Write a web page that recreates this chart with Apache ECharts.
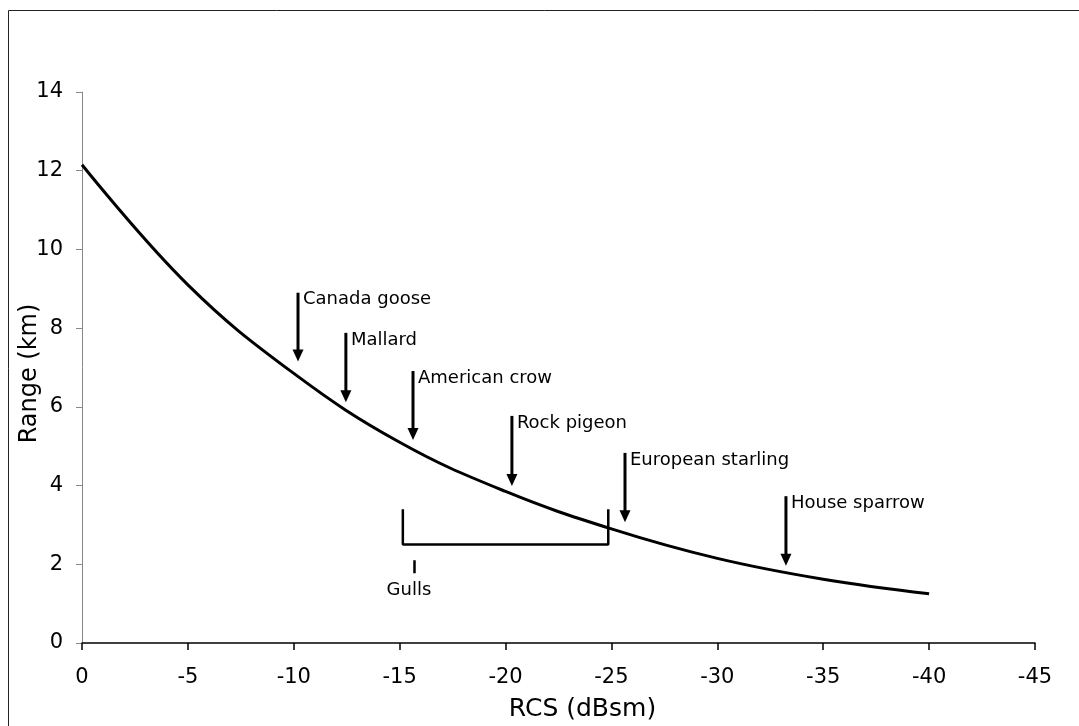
<!DOCTYPE html>
<html>
<head>
<meta charset="utf-8">
<script src="https://cdn.jsdelivr.net/npm/echarts@6/dist/echarts.min.js"></script>
<style>
  html, body { margin: 0; padding: 0; background: #fff; }
  #chart { width: 1079px; height: 726px; }
</style>
</head>
<body>
<div id="chart"></div>
<script>
// detection range curve
const rcs = [0, -5, -10, -15, -20, -25, -30, -35, -40]
const range = [12.15, 9.1, 6.85, 5.1, 3.85, 2.9, 2.15, 1.62, 1.25]

// bird arrows: x position, top of shaft, arrow tip
const birds = ['Canada goose', 'Mallard', 'American crow', 'Rock pigeon', 'European starling', 'House sparrow']
const birdRcs = [-10.2, -12.46, -15.63, -20.3, -25.64, -33.24]
const arrowTop = [8.9, 7.88, 6.91, 5.77, 4.83, 3.73]
const arrowTip = [7.15, 6.12, 5.16, 3.99, 3.07, 1.96]

// gulls bracket
const gullsX = [-15.15, -15.15, -24.85, -24.85]
const gullsY = [3.4, 2.5, 2.5, 3.4]
const gullsTickX = [-15.7, -15.7]
const gullsTickY = [2.1, 1.77]
const gullsLabel = [[-15.44, 1.33, 'Gulls']]

const font = 'DejaVu Sans, Verdana, sans-serif'

const chart = echarts.init(document.getElementById('chart'))

const arrowData = birds.map((name, i) => [birdRcs[i], arrowTop[i], arrowTip[i]])

const option = {
  animation: false,
  backgroundColor: '#fff',
  graphic: [
    {
      type: 'rect',
      shape: { x: 8.5, y: 10.5, width: 1200, height: 900 },
      style: { fill: 'none', stroke: '#222', lineWidth: 1 },
      silent: true
    }
  ],
  grid: { left: 82, right: 44, top: 92, bottom: 83, containLabel: false, outerBoundsMode: 'none' },
  xAxis: {
    type: 'value',
    inverse: true,
    min: -45,
    max: 0,
    interval: 5,
    name: 'RCS (dBsm)',
    nameLocation: 'middle',
    nameGap: 54,
    nameTextStyle: { fontFamily: font, fontSize: 25, color: '#000', padding: [0, 0, 0, 48] },
    axisLine: { show: true, lineStyle: { color: '#000', width: 1.5 } },
    axisTick: { show: true, length: 7, lineStyle: { color: '#000', width: 1.5 } },
    axisLabel: { fontFamily: font, fontSize: 21, color: '#000', margin: 24 },
    splitLine: { show: false }
  },
  yAxis: {
    type: 'value',
    min: 0,
    max: 14,
    interval: 2,
    name: 'Range (km)',
    nameLocation: 'middle',
    nameGap: 40,
    nameMoveOverlap: false,
    nameTextStyle: { fontFamily: font, fontSize: 24, color: '#000', padding: [0, 12, 0, 0] },
    axisLine: { show: true, lineStyle: { color: '#888', width: 1 } },
    axisTick: { show: true, length: 6, lineStyle: { color: '#888' } },
    axisLabel: { fontFamily: font, fontSize: 21, color: '#000', margin: 19 },
    splitLine: { show: false }
  },
  series: [
    {
      name: 'range',
      type: 'line',
      data: rcs.map((x, i) => [x, range[i]]),
      smooth: 0.4,
      showSymbol: false,
      lineStyle: { color: '#000', width: 3 },
      z: 3
    },
    {
      name: 'gulls',
      type: 'line',
      data: gullsX.map((x, i) => [x, gullsY[i]]),
      showSymbol: false,
      lineStyle: { color: '#000', width: 2.5 },
      z: 2
    },
    {
      name: 'gulls tick',
      type: 'line',
      data: gullsTickX.map((x, i) => [x, gullsTickY[i]]),
      showSymbol: false,
      lineStyle: { color: '#000', width: 2.5 },
      z: 2
    },
    {
      name: 'gulls label',
      type: 'custom',
      data: gullsLabel,
      renderItem: (params, api) => {
        const p = api.coord([api.value(0), api.value(1)])
        return {
          type: 'text',
          x: p[0],
          y: p[1],
          style: {
            text: gullsLabel[params.dataIndex][2],
            fontFamily: font,
            fontSize: 18,
            fill: '#000',
            align: 'center',
            verticalAlign: 'middle'
          }
        }
      }
    },
    {
      name: 'arrows',
      type: 'custom',
      data: arrowData,
      z: 4,
      renderItem: (params, api) => {
        const top = api.coord([api.value(0), api.value(1)])
        const tip = api.coord([api.value(0), api.value(2)])
        const head = 12
        const hw = 5.5
        return {
          type: 'group',
          children: [
            {
              type: 'line',
              shape: { x1: top[0], y1: top[1], x2: tip[0], y2: tip[1] - head + 1 },
              style: { stroke: '#000', lineWidth: 3 }
            },
            {
              type: 'polygon',
              shape: { points: [[tip[0] - hw, tip[1] - head], [tip[0] + hw, tip[1] - head], [tip[0], tip[1]]] },
              style: { fill: '#000' }
            },
            {
              type: 'text',
              x: top[0] + 5,
              y: top[1] - 2,
              style: {
                text: birds[params.dataIndex],
                fontFamily: font,
                fontSize: 18,
                fill: '#000',
                align: 'left',
                verticalAlign: 'top'
              }
            }
          ]
        }
      }
    }
  ]
}

chart.setOption(option)
window.addEventListener('resize', () => chart.resize())
</script>
</body>
</html>
